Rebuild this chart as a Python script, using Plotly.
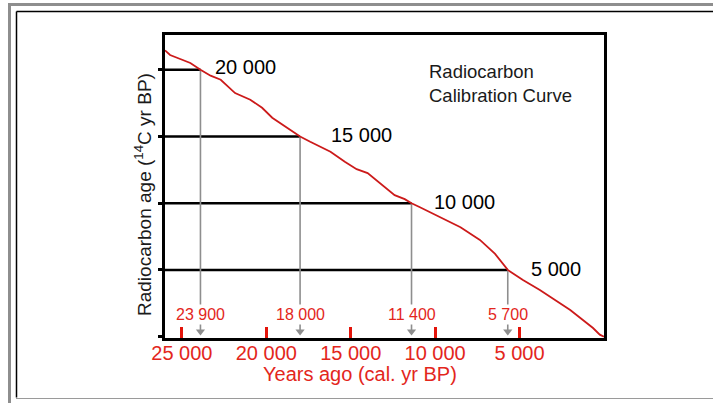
import plotly.graph_objects as go

# ---- data ----
cal_years = [26000, 25700, 25100, 24500, 23900, 23300, 22700, 21850, 20950, 20250, 19650, 19200,
             18600, 18000, 17400, 16200, 15350, 14650, 14000, 13250, 12400, 11800, 11400, 10900,
             9700, 8500, 7350, 6450, 5700, 4800, 3800, 2600, 2000, 1250, 650, 250, 0]
c14_ages = [21450, 21100, 20800, 20500, 20000, 19550, 19250, 18250, 17750, 17150, 16400, 16000,
            15500, 15000, 14600, 13850, 13100, 12550, 12250, 11500, 10600, 10300, 10000, 9700,
            8950, 8200, 7250, 6200, 5000, 4250, 3500, 2500, 2000, 1250, 650, 150, 0]

c14_levels = [20000, 15000, 10000, 5000]
c14_level_labels = ["20 000", "15 000", "10 000", "5 000"]
cal_crossings = [23900, 18000, 11400, 5700]
cal_crossing_labels = ["23 900", "18 000", "11 400", "5 700"]

x_tick_vals = [25000, 20000, 15000, 10000, 5000]
x_tick_text = ["25 000", "20 000", "15 000", "10 000", "5 000"]
y_tick_vals = [0, 5000, 10000, 15000, 20000]

X_RANGE = [26000, 0]
Y_RANGE = [-100, 22600]

FONT = "Liberation Sans, Arial, sans-serif"
RED_TEXT = "#E3261C"
RED_CURVE = "#CC1A1A"
GRAY = "#8E8E8E"

W, H = 713, 403
L, R, T, B = 165, 109, 35, 65
PW, PH = W - L - R, H - T - B


def px(xpix):
    return (xpix - L) / PW


def py(ypix):
    return (H - B - ypix) / PH


fig = go.Figure()

# horizontal reading lines
for lvl, cx in zip(c14_levels, cal_crossings):
    fig.add_trace(go.Scatter(x=[X_RANGE[0], cx], y=[lvl, lvl], mode="lines",
                             line=dict(color="black", width=2.5), hoverinfo="skip",
                             showlegend=False))

# gray arrows down to the axis
for lvl, cx in zip(c14_levels, cal_crossings):
    fig.add_trace(go.Scatter(x=[cx, cx], y=[lvl, 450], mode="lines",
                             line=dict(color=GRAY, width=1.6), hoverinfo="skip",
                             showlegend=False))
    fig.add_trace(go.Scatter(x=[cx], y=[380], mode="markers",
                             marker=dict(symbol="triangle-down", size=8, color=GRAY,
                                         line=dict(width=0)),
                             hoverinfo="skip", showlegend=False))

# calibration curve
fig.add_trace(go.Scatter(x=cal_years, y=c14_ages, mode="lines",
                         line=dict(color=RED_CURVE, width=1.8), showlegend=False))

annotations = []
# red labels on arrows
for cx, lab in zip(cal_crossings, cal_crossing_labels):
    annotations.append(dict(x=cx, y=py(314), xref="x", yref="paper", text=lab, showarrow=False,
                            font=dict(family=FONT, size=16, color=RED_TEXT),
                            xanchor="center", yanchor="middle", bgcolor="white",
                            borderpad=1))

# level labels
label_shifts = [13, 29, 20, 21]
label_yshifts = [3, 1, 1, 1]
for lvl, cx, lab, xs, ys in zip(c14_levels, cal_crossings, c14_level_labels, label_shifts, label_yshifts):
    annotations.append(dict(x=cx, y=lvl, xref="x", yref="y", text=lab, showarrow=False,
                            xanchor="left", yanchor="middle", xshift=xs, yshift=ys,
                            font=dict(family=FONT, size=20, color="black")))

# chart title (inside plot)
annotations.append(dict(x=px(427), y=py(84), xref="paper", yref="paper",
                        text="Radiocarbon<br>Calibration Curve", showarrow=False,
                        xanchor="left", yanchor="middle", align="left",
                        font=dict(family=FONT, size=18.5, color="#1a1a1a")))

# y-axis title
annotations.append(dict(x=px(143), y=py(195), xref="paper", yref="paper",
                        text="Radiocarbon age (<sup>14</sup>C yr BP)", showarrow=False,
                        textangle=-90, xanchor="center", yanchor="middle",
                        font=dict(family=FONT, size=19, color="#1a1a1a")))

# x-axis title
annotations.append(dict(x=px(360), y=py(374), xref="paper", yref="paper",
                        text="Years ago (cal. yr BP)", showarrow=False,
                        xanchor="center", yanchor="middle",
                        font=dict(family=FONT, size=20, color=RED_TEXT)))

# frame decoration
shapes = [
    dict(type="rect", xref="paper", yref="paper", x0=px(8), x1=px(11), y0=py(3), y1=py(403),
         fillcolor=GRAY, line=dict(width=0)),
    dict(type="rect", xref="paper", yref="paper", x0=px(8), x1=px(713), y0=py(3), y1=py(6),
         fillcolor=GRAY, line=dict(width=0)),
    dict(type="line", xref="paper", yref="paper", x0=px(16.5), x1=px(713), y0=py(11.5), y1=py(11.5),
         line=dict(color="black", width=1.5)),
    dict(type="line", xref="paper", yref="paper", x0=px(16.5), x1=px(16.5), y0=py(11.5), y1=py(397.5),
         line=dict(color="black", width=1.5)),
    dict(type="line", xref="paper", yref="paper", x0=px(16), x1=px(713), y0=py(398.5), y1=py(398.5),
         line=dict(color="#9a9a9a", width=1.2)),
]

fig.update_layout(
    width=W, height=H,
    margin=dict(l=L, r=R, t=T, b=B, autoexpand=False),
    paper_bgcolor="white", plot_bgcolor="white",
    font=dict(family=FONT),
    showlegend=False,
    annotations=annotations,
    shapes=shapes,
    xaxis=dict(range=X_RANGE, showgrid=False, zeroline=False, showline=True, mirror=True,
               linecolor="black", linewidth=2.5,
               tickmode="array", tickvals=x_tick_vals, ticktext=x_tick_text,
               ticks="inside", ticklen=11, tickwidth=3, tickcolor="#E3140A",
               ticklabelstandoff=-5,
               tickfont=dict(family=FONT, size=20, color=RED_TEXT)),
    yaxis=dict(range=Y_RANGE, showgrid=False, zeroline=False, showline=True, mirror=True,
               linecolor="black", linewidth=2.5,
               tickmode="array", tickvals=y_tick_vals, ticks="outside", ticklen=4,
               tickwidth=2.5, tickcolor="black", showticklabels=False),
)

fig.write_html("out.html", config={"displayModeBar": False},
               post_script="document.body.style.margin='0';document.body.style.overflow='hidden';")
